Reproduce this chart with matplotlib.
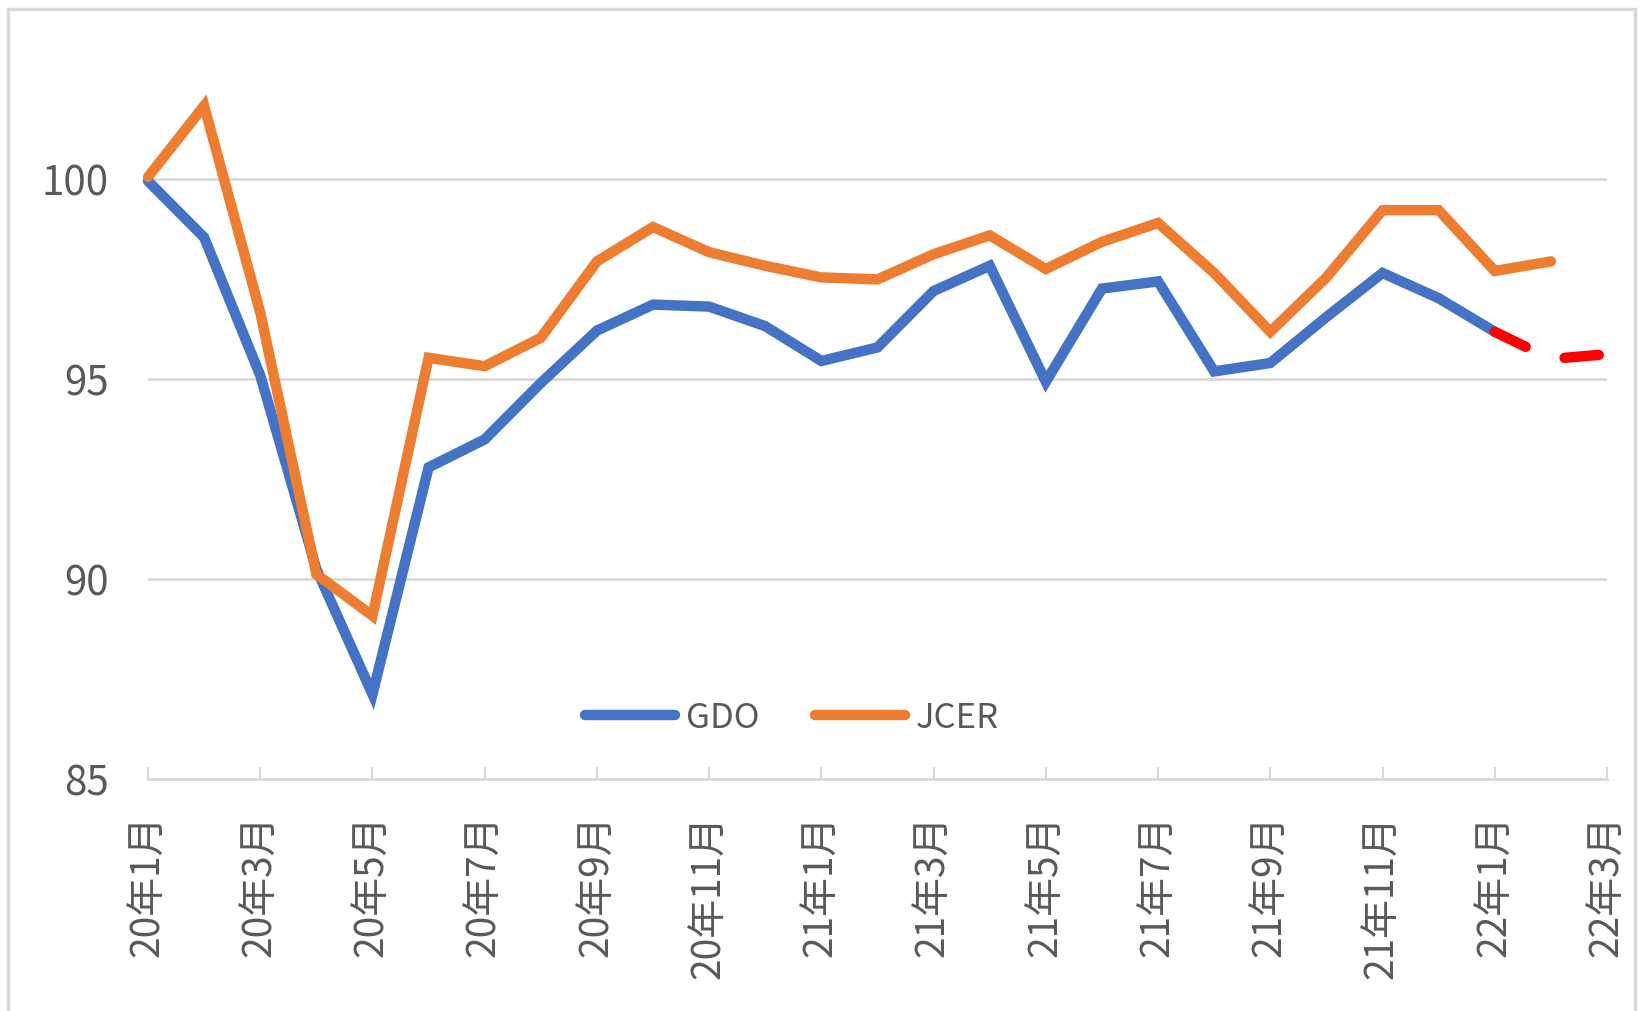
import matplotlib.pyplot as plt
from matplotlib.patches import Rectangle

plt.rcParams['font.family'] = ['Noto Sans CJK JP', 'DejaVu Sans']

# monthly index, 20年1月 .. 22年3月
months = ['20年1月', '20年2月', '20年3月', '20年4月', '20年5月', '20年6月', '20年7月',
          '20年8月', '20年9月', '20年10月', '20年11月', '20年12月', '21年1月', '21年2月',
          '21年3月', '21年4月', '21年5月', '21年6月', '21年7月', '21年8月', '21年9月',
          '21年10月', '21年11月', '21年12月', '22年1月', '22年2月', '22年3月']

gdo = [99.95, 98.54, 95.09, 90.25, 87.12, 92.79, 93.49, 94.9, 96.21, 96.86,
       96.81, 96.32, 95.45, 95.79, 97.2, 97.83, 94.93, 97.26, 97.44, 95.19,
       95.4, 96.55, 97.65, 97.02, 96.18]
gdo_fcst = [96.18, 95.5, 95.62]   # 22年1月 - 22年3月, red dashed
jcer = [100.05, 101.83, 96.66, 90.12, 89.08, 95.53, 95.32, 96.03, 97.94, 98.8,
        98.17, 97.83, 97.54, 97.49, 98.12, 98.59, 97.75, 98.43, 98.9, 97.65,
        96.18, 97.54, 99.22, 99.22, 97.7, 97.94]

W, H = 1639, 1012
fig = plt.figure(figsize=(W / 100, H / 100), dpi=100)
ax = fig.add_axes([148 / W, 1 - 780 / H, (1607 - 148) / W, 780 / H])

x_gdo = list(range(len(gdo)))
x_jcer = list(range(len(jcer)))
x_fcst = list(range(len(gdo) - 1, len(gdo) - 1 + len(gdo_fcst)))

ax.plot(x_gdo, gdo, color='#4472C4', lw=7.5, solid_capstyle='round',
        solid_joinstyle='miter', label='GDO', clip_on=False, zorder=3)
ax.plot(x_jcer, jcer, color='#ED7D31', lw=7.5, solid_capstyle='round',
        solid_joinstyle='miter', label='JCER', clip_on=False, zorder=3)
ax.plot(x_fcst, gdo_fcst, color='#FF0000', lw=7.5, dashes=(3.3, 4.0),
        dash_capstyle='round', clip_on=False, zorder=4)

ax.set_xlim(0, len(months) - 1)
ax.set_ylim(85, 104.5)
ax.set_yticks([85, 90, 95, 100])
ax.set_xticks(range(0, len(months), 2))
ax.set_xticklabels(months[::2], rotation=90)

for s in ['top', 'right', 'left']:
    ax.spines[s].set_visible(False)
ax.spines['bottom'].set_color('#d9d9d9')
ax.spines['bottom'].set_linewidth(2)
ax.grid(axis='y', color='#d9d9d9', lw=2)
ax.set_axisbelow(True)

ax.tick_params(axis='x', direction='in', length=8.5, width=1.5, color='#d9d9d9',
               labelsize=28, labelcolor='#595959', pad=25)
ax.tick_params(axis='y', length=0, labelsize=29, labelcolor='#595959', pad=28)

fig.legend(loc='center', bbox_to_anchor=(792 / W, 1 - 719 / H), ncol=2,
           frameon=False, fontsize=25, handlelength=2.6, handletextpad=0.3,
           columnspacing=1.6, labelcolor='#595959')

# outer chart frame
fig.patches.append(Rectangle((8 / W, -0.05), (1635 - 8) / W, 1.05 - 10 / H,
                             transform=fig.transFigure, fill=False,
                             edgecolor='#d9d9d9', lw=2.5))

fig.savefig('out.png', dpi=100)
